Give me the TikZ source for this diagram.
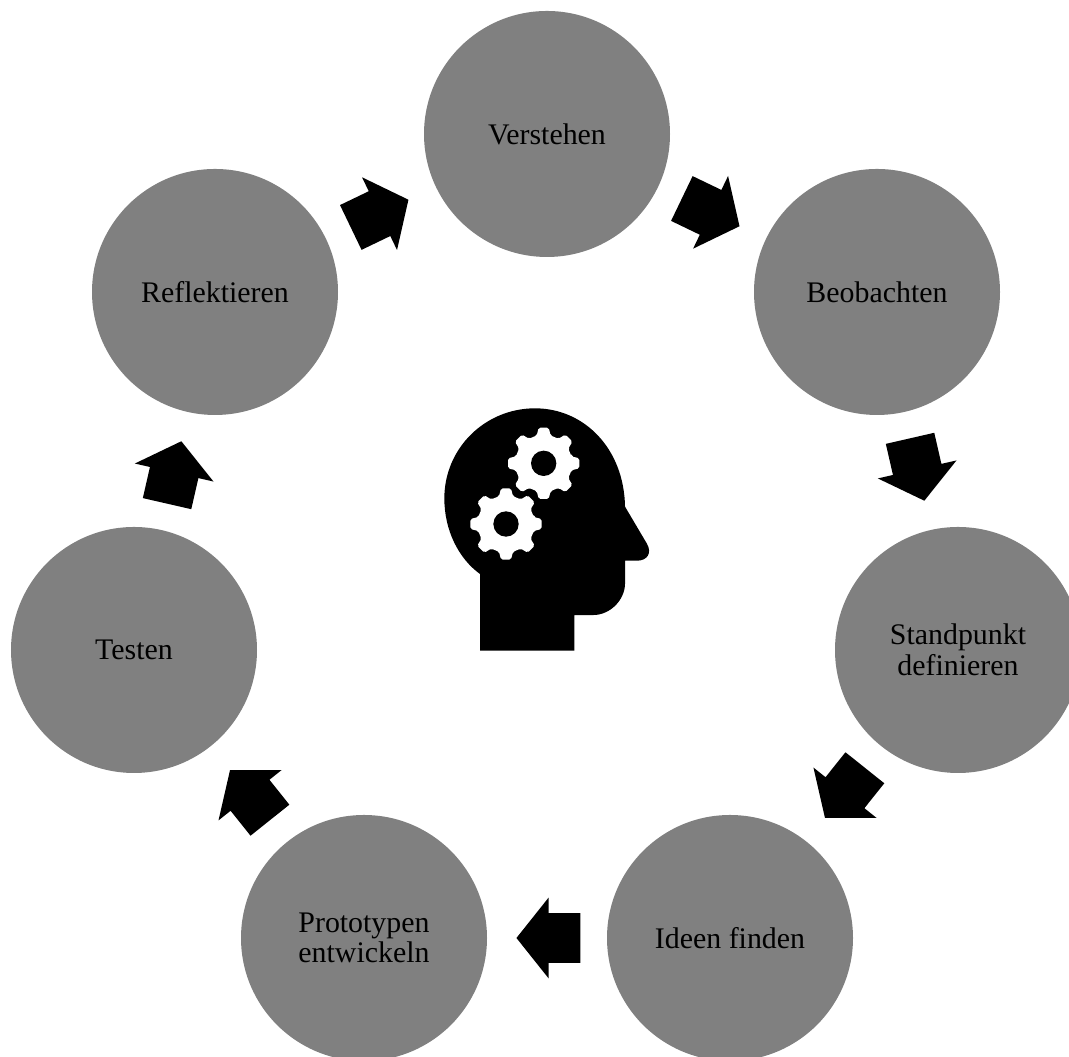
\documentclass[tikz,border=0pt]{standalone}
\usepackage{xcolor}
\usepackage{tikz}
\usepackage{fontspec}
\setmainfont{Liberation Serif}
\definecolor{phasegray}{RGB}{128, 128, 128}
\usetikzlibrary{shapes,calc}

\begin{document}
\begin{tikzpicture}[
    phase/.style={circle, fill=phasegray, inner sep=0pt, minimum size=4.92cm, align=center, font=\fontsize{17}{17.5}\selectfont},
    flowarrow/.style={single arrow, fill=black, inner xsep=0pt, inner ysep=0.49cm, minimum height=1.28cm, single arrow head extend=0.31cm, single arrow tip angle=103},
    gearhole/.style={fill=black}
]
    \useasboundingbox (0,0) rectangle (21.38,21.14);
    \clip (0,0) rectangle (21.38,21.14);

    \node[phase] (verstehen) at (10.94,18.46) {Verstehen};
    \node[phase] (beobachten) at (17.54,15.30) {Beobachten};
    \node[phase] (standpunkt) at (19.16,8.14) {Standpunkt\\definieren};
    \node[phase] (ideen) at (14.60,2.38) {Ideen finden};
    \node[phase] (prototypen) at (7.28,2.38) {Prototypen\\entwickeln};
    \node[phase] (testen) at (2.68,8.14) {Testen};
    \node[phase] (reflektieren) at (4.30,15.30) {Reflektieren};

    % Arrows between the phases
    \node[flowarrow, rotate=-25.7] (arrowa) at ($(verstehen)!0.469!(beobachten)$) {};
    \node[flowarrow, rotate=-77.1] (arrowb) at ($(beobachten)!0.469!(standpunkt)$) {};
    \node[flowarrow, rotate=-128.6] (arrowc) at ($(standpunkt)!0.469!(ideen)$) {};
    \node[flowarrow, rotate=180] (arrowd) at ($(ideen)!0.469!(prototypen)$) {};
    \node[flowarrow, rotate=128.6] (arrowe) at ($(prototypen)!0.469!(testen)$) {};
    \node[flowarrow, rotate=77.1] (arrowf) at ($(testen)!0.469!(reflektieren)$) {};
    \node[flowarrow, rotate=25.7] (arrowg) at ($(reflektieren)!0.469!(verstehen)$) {};

    % Head with two gears
    \begin{scope}[shift={(8.6,13.14)}, x=0.00667cm, y=-0.00667cm]
        \fill[black] (150,752) -- (150,522)
            .. controls (85,475) and (43,390) .. (43,295)
            .. controls (43,145) and (165,25) .. (315,25)
            .. controls (462,25) and (582,145) .. (585,320)
            -- (650,430)
            .. controls (668,460) and (650,482) .. (622,482)
            -- (585,482) -- (585,550)
            .. controls (585,600) and (540,645) .. (490,645)
            -- (433,645) -- (433,752) -- cycle;
        \foreach \gx/\gy in {341/190, 228/372} {
            \fill[white, rounded corners=1pt, shift={(\gx,\gy)}]
                (-14:86)
                \foreach \a in {0,45,...,315} {
                    -- (\a-14:86) -- (\a-8:108) -- (\a+8:108) -- (\a+14:86)
                } -- cycle;
            \fill[gearhole, shift={(\gx,\gy)}] (0,0) circle (38);
        }
    \end{scope}
\end{tikzpicture}
\end{document}
